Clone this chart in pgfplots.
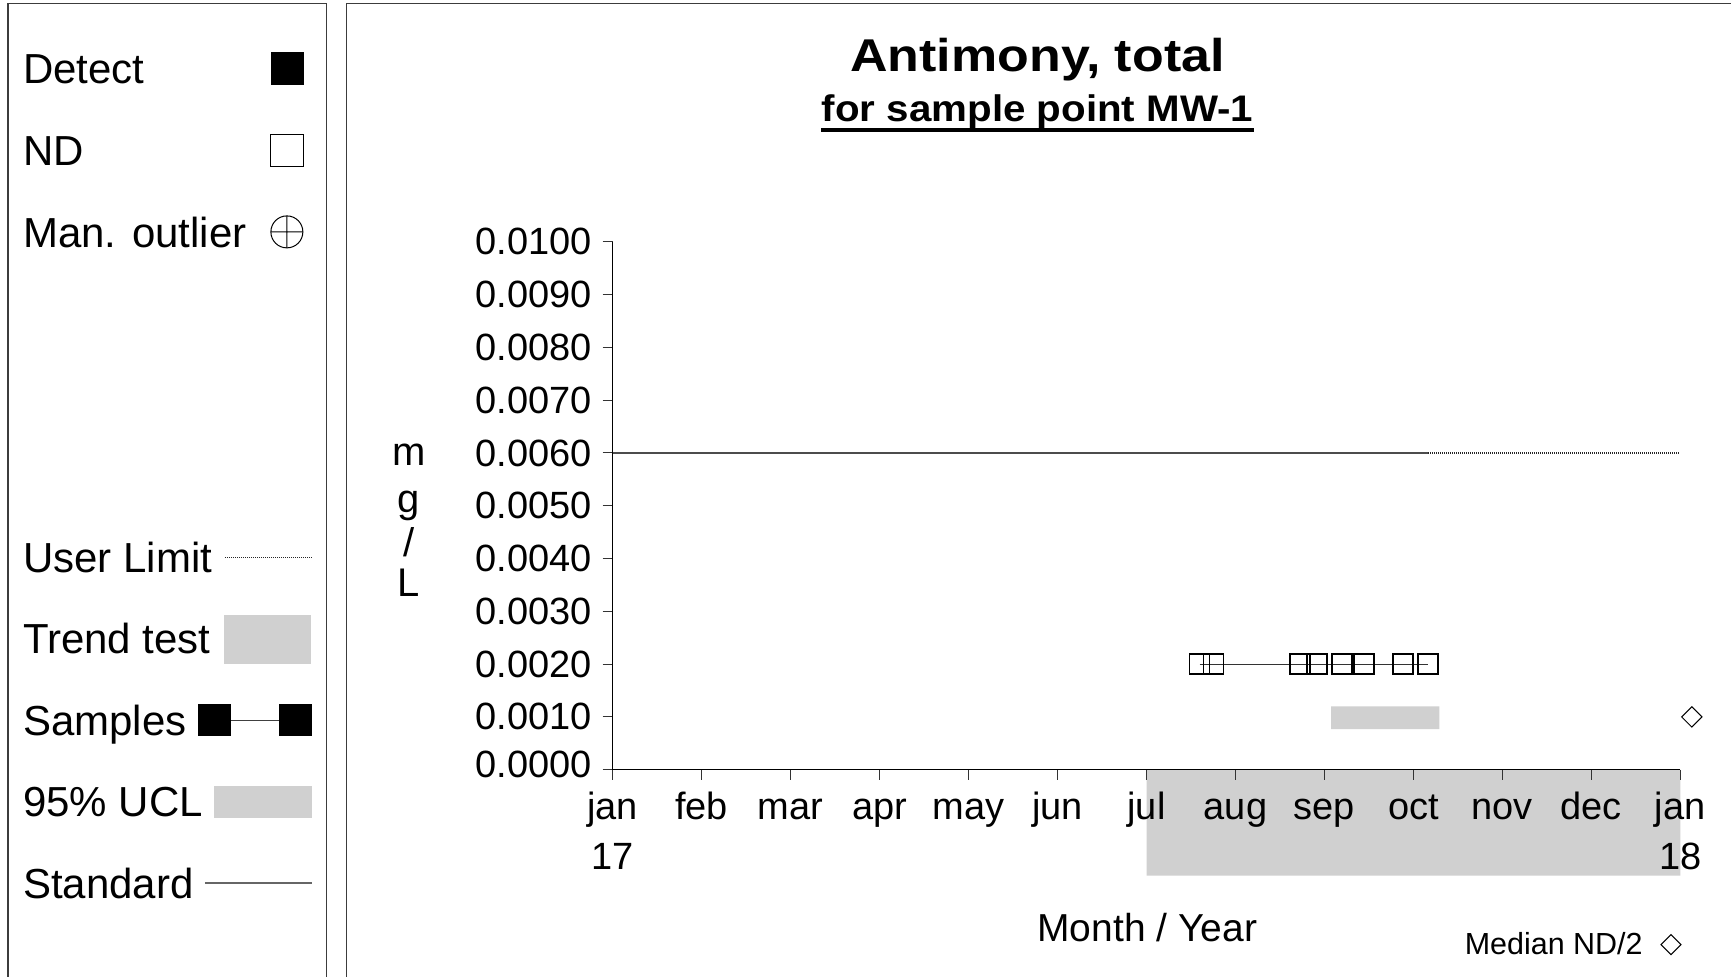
\documentclass[border=0pt]{standalone}
\usepackage{pgfplots}
\pgfplotsset{compat=1.18}
\usepackage{fontspec}
\setmainfont{Liberation Sans}
\newfontfamily\titlefont[FakeStretch=1.13]{Liberation Sans}
\newfontfamily\subtitlefont[FakeStretch=1.09]{Liberation Sans}
\definecolor{band}{RGB}{208,208,208}
\definecolor{framecol}{RGB}{60,60,60}

\begin{document}
\begin{tikzpicture}
\path (0,0) rectangle (866pt,488.5pt);

% panel frames
\draw[framecol, line width=0.75pt] (4pt,0) -- (4pt,486.85pt) -- (163.35pt,486.85pt) -- (163.35pt,0);
\draw[framecol, line width=0.75pt] (173.4pt,0) -- (173.4pt,486.85pt) -- (866pt,486.85pt);

% key panel
\begin{scope}[every node/.style={font=\fontsize{21}{25}\selectfont, anchor=base west, inner sep=0pt}]
\node at (11.4pt,446.85pt) {Detect};
\fill[black] (135.5pt,446pt) rectangle (152pt,462.35pt);
\node at (11.4pt,405.65pt) {ND};
\draw[black, line width=0.6pt] (135.5pt,405.15pt) rectangle (152pt,421.35pt);
\node at (11.4pt,364.5pt) {Man. outlier};
\draw[black, line width=0.5pt] (143.5pt,372.5pt) circle (8pt)
  (135.5pt,372.5pt) -- (151.5pt,372.5pt) (143.5pt,364.5pt) -- (143.5pt,380.5pt);
\node at (11.4pt,202.35pt) {User Limit};
\draw[black!85, line width=0.6pt, dash pattern=on 0.5pt off 0.5pt] (112.5pt,209.5pt) -- (155.75pt,209.5pt);
\node at (11.4pt,161.8pt) {Trend test};
\fill[band] (112pt,156.5pt) rectangle (155.75pt,181pt);
\node at (11.4pt,120.65pt) {Samples};
\fill[black] (99.15pt,120.15pt) rectangle (115.5pt,136.35pt);
\fill[black] (139.65pt,120.15pt) rectangle (155.85pt,136.35pt);
\draw[black!75, line width=0.5pt] (115.5pt,128.15pt) -- (139.65pt,128.15pt);
\node at (11.4pt,80.15pt) {95\% UCL};
\fill[band] (107pt,79.35pt) rectangle (155.85pt,95.5pt);
\node at (11.4pt,39.15pt) {Standard};
\draw[black!60, line width=0.6pt] (102.5pt,46.85pt) -- (155.85pt,46.85pt);
\end{scope}

% titles
\node[anchor=base, inner sep=0pt, font=\titlefont\bfseries\fontsize{23}{27}\selectfont] at (519pt,452.75pt) {Antimony, total};
\node[anchor=base, inner sep=0pt, font=\subtitlefont\bfseries\fontsize{18.5}{22}\selectfont] (sub) at (519pt,427.75pt) {for sample point MW-1};
\draw[line width=2pt] ([yshift=-4.5pt]sub.base west) -- ([yshift=-4.5pt]sub.base east);

% stacked unit label
\begin{scope}[every node/.style={font=\fontsize{20}{24}\selectfont, anchor=base, inner sep=0pt}]
\node at (204.5pt,255.5pt) {m};
\node at (204.5pt,232pt) {g};
\node at (204.5pt,210.3pt) {/};
\node at (204.5pt,190pt) {L};
\end{scope}

\node[anchor=base, inner sep=0pt, font=\fontsize{19.5}{24}\selectfont] at (573.85pt,17.5pt) {Month / Year};
\node[anchor=base west, inner sep=0pt, font=\fontsize{15.25}{18}\selectfont] at (732.5pt,11pt) {Median ND/2};
\draw[black, line width=0.5pt] (835.85pt,11pt) -- (840.85pt,16pt) -- (835.85pt,21pt) -- (830.85pt,16pt) -- cycle;

\begin{axis}[
  set layers,
  at={(306.5pt,103.5pt)}, anchor=south west,
  scale only axis, width=534pt, height=264pt,
  xmin=0, xmax=12, ymin=0, ymax=0.01,
  clip=false,
  axis x line*=bottom, axis y line*=left,
  axis line style={black, line width=0.5pt},
  tick align=outside, major tick length=5pt,
  tick style={black!80, line width=0.5pt},
  xtick={0,1,2,3,4,5,6,7,8,9,10,11,12},
  xticklabels={{\begin{tabular}[t]{@{}c@{}}jan\\17\end{tabular}},feb,mar,apr,may,jun,jul,aug,sep,oct,nov,dec,{\begin{tabular}[t]{@{}c@{}}jan\\18\end{tabular}}},
  xticklabel style={anchor=base, inner sep=0pt, yshift=-20pt, font=\fontsize{19}{25}\selectfont},
  ytick={0.001,0.002,0.003,0.004,0.005,0.006,0.007,0.008,0.009,0.01},
  extra y ticks={0},
  extra y tick style={yticklabel style={yshift=2.75pt}},
  scaled y ticks=false,
  yticklabel style={/pgf/number format/fixed, /pgf/number format/fixed zerofill,
    /pgf/number format/precision=4, /pgf/number format/assume math mode=true,
    anchor=east, inner sep=0pt, xshift=-5.3pt, font=\fontsize{19}{24}\selectfont},
]
% shaded months behind the tick labels
\addplot[fill=band, draw=none, on layer=axis background]
  coordinates {(6,0) (12,0) (12,-0.00201) (6,-0.00201) (6,0)};
% trend test band
\addplot[fill=band, draw=none]
  coordinates {(8.075,0.00077) (9.292,0.00077) (9.292,0.0012) (8.075,0.0012) (8.075,0.00077)};
% user limit and standard
\addplot[black!85, line width=0.6pt, dash pattern=on 0.5pt off 0.5pt] coordinates {(0,0.006) (12,0.006)};
\addplot[black!70, line width=1pt] coordinates {(0,0.006) (9.163,0.006)};
% non-detect samples
\addplot[black!80, line width=0.5pt, mark=square, mark size=5pt,
  mark options={black, line width=0.75pt, solid}]
  coordinates {(6.598,0.002) (6.755,0.002) (7.725,0.002) (7.916,0.002)
               (8.197,0.002) (8.444,0.002) (8.884,0.002) (9.163,0.002)};
% median ND/2
\addplot[only marks, mark=square, mark size=3.6pt, mark options={black, line width=0.5pt, rotate=45}]
  coordinates {(12.13,0.001)};
\end{axis}
\end{tikzpicture}
\end{document}
